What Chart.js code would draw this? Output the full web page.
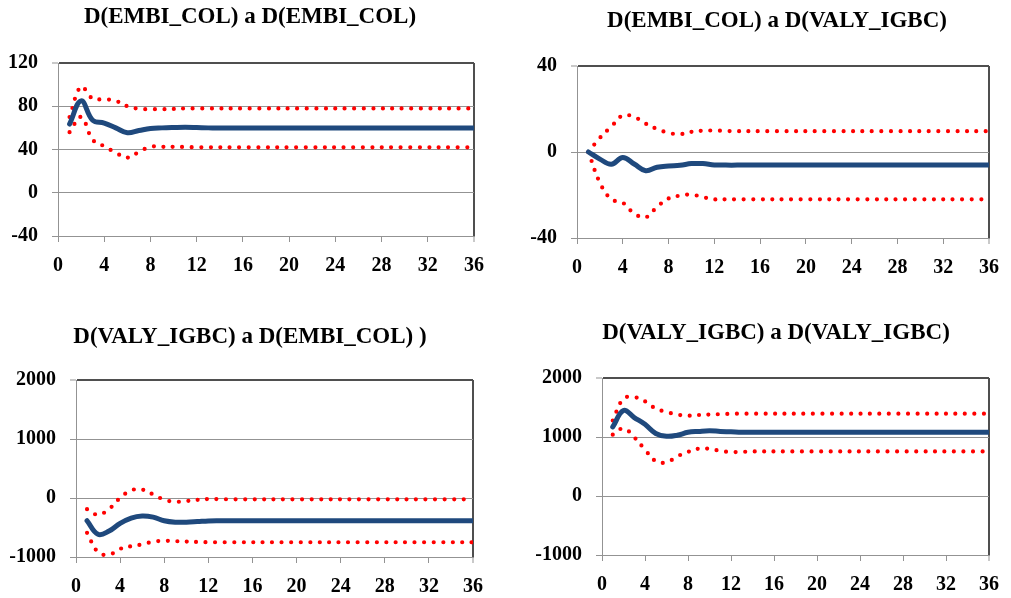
<!DOCTYPE html>
<html><head><meta charset="utf-8">
<script src="https://cdn.jsdelivr.net/npm/chart.js@4.4.1/dist/chart.umd.min.js"></script>
<style>
html,body{margin:0;padding:0;background:#fff;width:1011px;height:598px;overflow:hidden}
canvas.p{position:absolute}
</style></head><body>
<canvas id="c1" class="p" style="left:0;top:0" width="505" height="298"></canvas>
<canvas id="c2" class="p" style="left:505px;top:0" width="506" height="298"></canvas>
<canvas id="c3" class="p" style="left:0;top:298px" width="505" height="300"></canvas>
<canvas id="c4" class="p" style="left:505px;top:298px" width="506" height="300"></canvas>
<script>
// Horizon (periods)
const periods = [1,2,3,4,5,6,7,8,9,10,11,12,13,14,15,16,17,18,19,20,21,22,23,24,25,26,27,28,29,30,31,32,33,34,35,36];

// Panel titles
const titles = [
  "D(EMBI_COL) a D(EMBI_COL)",
  "D(EMBI_COL) a D(VALY_IGBC)",
  "D(VALY_IGBC) a D(EMBI_COL) )",
  "D(VALY_IGBC) a D(VALY_IGBC)"
];

// Y tick ranges per panel
const yMin = [-40, -40, -1000, -1000];
const yMax = [120, 40, 2000, 2000];
const yStep = [40, 40, 1000, 1000];
const xTicksStep = 4;

// Panel 1: D(EMBI_COL) -> D(EMBI_COL)
const p1Resp  = [63.5,85,67,64.5,60,55.5,57.5,59.5,60,60.3,60.5,60.3,60,60,60,60,60,60,60,60,60,60,60,60,60,60,60,60,60,60,60,60,60,60,60,60];
const p1Upper = [70,98,87,86.5,85,80,77.7,77.3,77.3,77.5,78,78,78,78,78,78,78,78,78,78,78,78,78,78,78,78,78,78,78,78,78,78,78,78,78,78];
const p1Lower = [56,70,49,43,37,32.5,37.7,42.5,42.5,42.5,42.3,42,42,42,42,42,42,42,42,42,42,42,42,42,42,42,42,42,42,42,42,42,42,42,42,42];

// Panel 2: D(EMBI_COL) -> D(VALY_IGBC)
const p2Resp  = [0,-3.3,-5.7,-2.6,-5.6,-8.7,-7.1,-6.5,-6.2,-5.4,-5.4,-6,-6.1,-6.1,-6,-6,-6,-6,-6,-6,-6,-6,-6,-6,-6,-6,-6,-6,-6,-6,-6,-6,-6,-6,-6,-6];
const p2Upper = [0,6.6,11.8,17,16.3,13.2,10.7,8.9,8.3,9.4,9.9,10,9.8,9.7,9.7,9.7,9.7,9.7,9.7,9.7,9.7,9.7,9.7,9.7,9.7,9.7,9.7,9.7,9.7,9.7,9.7,9.7,9.7,9.7,9.7,9.7];
const p2Lower = [0,-14.3,-22,-23.6,-28.6,-30.4,-25.5,-21.6,-20.3,-19.8,-21,-22,-22,-22,-22,-22,-22,-22,-22,-22,-22,-22,-22,-22,-22,-22,-22,-22,-22,-22,-22,-22,-22,-22,-22,-22];

// Panel 3: D(VALY_IGBC) -> D(EMBI_COL)
const p3Resp  = [-385,-615,-560,-430,-340,-305,-325,-385,-410,-410,-400,-388,-385,-385,-385,-385,-385,-385,-385,-385,-385,-385,-385,-385,-385,-385,-385,-385,-385,-385,-385,-385,-385,-385,-385,-385];
const p3Upper = [-190,-285,-185,0,130,143,60,-28,-63,-52,-31,-17,-20,-22,-22,-22,-22,-22,-22,-22,-22,-22,-22,-22,-22,-22,-22,-22,-22,-22,-22,-22,-22,-22,-22,-22];
const p3Lower = [-590,-918,-960,-862,-818,-786,-740,-726,-732,-739,-746,-750,-750,-750,-750,-750,-750,-750,-750,-750,-750,-750,-750,-750,-750,-750,-750,-750,-750,-750,-750,-750,-750,-750,-750,-750];

// Panel 4: D(VALY_IGBC) -> D(VALY_IGBC)
const p4Resp  = [1170,1450,1330,1215,1060,1012,1030,1080,1095,1105,1095,1088,1080,1080,1080,1080,1080,1080,1080,1080,1080,1080,1080,1080,1080,1080,1080,1080,1080,1080,1080,1080,1080,1080,1080,1080];
const p4Upper = [1280,1650,1675,1605,1482,1425,1380,1362,1373,1380,1387,1393,1395,1395,1395,1395,1395,1395,1395,1395,1395,1395,1395,1395,1395,1395,1395,1395,1395,1395,1395,1395,1395,1395,1395,1395];
const p4Lower = [1040,1145,995,785,590,570,672,748,803,800,765,745,748,755,755,755,755,755,755,755,755,755,755,755,755,755,755,755,755,755,755,755,755,755,755,755];

const panels = [
  {id:'c1', resp:p1Resp, up:p1Upper, lo:p1Lower, box:{yW:58, xH:62, padT:63, padR:31}, title:{x:250, y:23}},
  {id:'c2', resp:p2Resp, up:p2Upper, lo:p2Lower, box:{yW:72, xH:60, padT:66, padR:14}, title:{x:272, y:27}},
  {id:'c3', resp:p3Resp, up:p3Upper, lo:p3Lower, box:{yW:76, xH:41, padT:82, padR:32}, title:{x:250, y:45}},
  {id:'c4', resp:p4Resp, up:p4Upper, lo:p4Lower, box:{yW:97, xH:43, padT:80, padR:12}, title:{x:271, y:41}}
];

const FONT = 'Liberation Serif, "Times New Roman", serif';
const GRID = '#939393';
const FRAME = '#4f4f4f';

const titlePlugin = {
  id: 'panelTitle',
  afterDraw(chart, args, opts) {
    const ctx = chart.ctx;
    ctx.save();
    ctx.font = 'bold 23px ' + FONT;
    ctx.fillStyle = '#000';
    ctx.textAlign = 'center';
    ctx.textBaseline = 'alphabetic';
    ctx.fillText(opts.text, opts.x, opts.y);
    ctx.restore();
  }
};

function pts(ys) { return periods.map((p, i) => ({x: p, y: ys[i]})); }

panels.forEach((p, k) => {
  const mx = yMax[k];
  new Chart(document.getElementById(p.id), {
    type: 'line',
    data: {
      datasets: [
        {data: pts(p.resp), borderColor: '#1F497D', borderWidth: 5, pointRadius: 0, tension: 0.4,
         borderCapStyle: 'round', borderJoinStyle: 'round', order: 0},
        {data: pts(p.up), borderColor: '#FF0000', borderWidth: 4.2, borderDash: [0, 9.5], pointRadius: 0, tension: 0.4,
         borderCapStyle: 'round', order: 1},
        {data: pts(p.lo), borderColor: '#FF0000', borderWidth: 4.2, borderDash: [0, 9.5], pointRadius: 0, tension: 0.4,
         borderCapStyle: 'round', order: 2}
      ]
    },
    options: {
      responsive: false,
      animation: false,
      devicePixelRatio: 1,
      layout: {padding: {top: p.box.padT, right: p.box.padR, left: 0, bottom: 0}},
      plugins: {legend: {display: false}, tooltip: {enabled: false}, title: {display: false},
        panelTitle: {text: titles[k], x: p.title.x, y: p.title.y}},
      scales: {
        x: {
          type: 'linear', min: 0, max: 36,
          ticks: {stepSize: xTicksStep, color: '#000', font: {family: FONT, weight: 'bold', size: 20}, padding: 12, maxRotation: 0, autoSkip: false,
                  callback: v => String(v)},
          grid: {color: c => (c.tick && c.tick.value === 36) ? FRAME : 'rgba(0,0,0,0)',
                 lineWidth: c => (c.tick && c.tick.value === 36) ? 2 : 1,
                 tickColor: GRID, tickWidth: 1, tickLength: 6},
          border: {color: GRID, width: 1},
          afterFit: s => { s.height = p.box.xH; }
        },
        y: {
          min: yMin[k], max: mx,
          ticks: {stepSize: yStep[k], color: '#000', font: {family: FONT, weight: 'bold', size: 20}, padding: 14,
                  callback: v => String(v)},
          grid: {color: c => (c.tick && c.tick.value === mx) ? FRAME : GRID,
                 lineWidth: c => (c.tick && c.tick.value === mx) ? 2 : 1,
                 tickColor: GRID, tickWidth: 1, tickLength: 6},
          border: {color: GRID, width: 1},
          afterFit: s => { s.width = p.box.yW; }
        }
      }
    },
    plugins: [titlePlugin]
  });
});
</script>
</body></html>
